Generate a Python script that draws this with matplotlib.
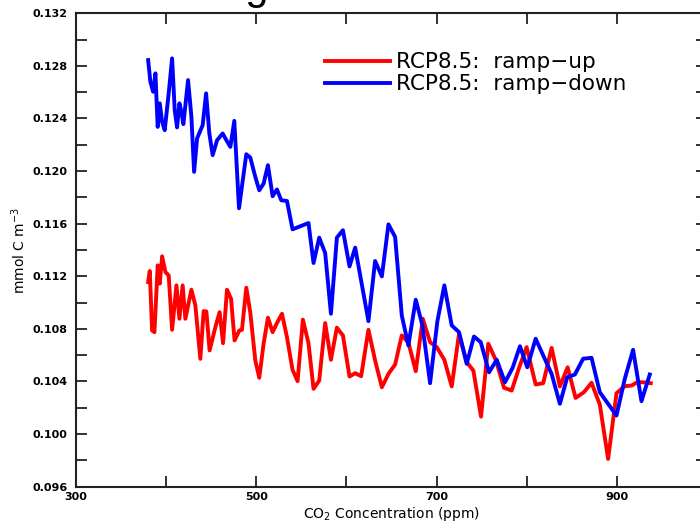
import numpy as np
import matplotlib
matplotlib.use("Agg")
import matplotlib.pyplot as plt
from matplotlib.ticker import FixedLocator, FixedFormatter

# CO2 concentration (ppm) and carbon concentration (mmol C m-3)
up_co2 = [380.0, 381.8, 384.4, 387.0, 390.6, 392.9, 395.5, 399.2, 402.8, 406.6,
          411.4, 414.7, 418.3, 421.3, 428.0, 432.4, 437.9, 441.6, 444.6, 448.2,
          454.6, 459.3, 463.1, 467.5, 472.0, 475.9, 481.2, 484.1, 488.9, 493.3,
          498.9, 503.3, 508.1, 512.9, 518.1, 522.9, 528.5, 534.0, 540.2, 545.8,
          551.7, 557.9, 563.5, 569.8, 576.4, 582.8, 589.4, 596.1, 603.4, 609.7,
          616.3, 624.4, 631.8, 639.3, 646.6, 654.0, 661.4, 668.7, 676.9, 684.7,
          692.8, 700.2, 708.6, 716.8, 724.9, 733.4, 740.8, 749.3, 757.4, 765.9,
          774.8, 783.3, 791.7, 799.9, 809.9, 818.3, 827.6, 836.8, 845.4, 854.2,
          863.4, 871.9, 881.1, 890.3, 899.6, 908.8, 916.3, 922.5, 929.1, 937.6]
up_carbon = [0.11156, 0.11240, 0.10788, 0.10775, 0.11283, 0.11144, 0.11352, 0.11232, 0.11207, 0.10793,
             0.11131, 0.10877, 0.11131, 0.10877, 0.11098, 0.10978, 0.10572, 0.10935, 0.10933, 0.10636,
             0.10813, 0.10927, 0.10691, 0.11098, 0.11029, 0.10712, 0.10788, 0.10793, 0.11113, 0.10927,
             0.10560, 0.10428, 0.10687, 0.10885, 0.10775, 0.10844, 0.10915, 0.10737, 0.10489, 0.10402,
             0.10870, 0.10691, 0.10344, 0.10407, 0.10844, 0.10565, 0.10809, 0.10750, 0.10438, 0.10463,
             0.10440, 0.10793, 0.10560, 0.10356, 0.10458, 0.10529, 0.10750, 0.10697, 0.10478, 0.10877,
             0.10699, 0.10661, 0.10565, 0.10362, 0.10763, 0.10547, 0.10483, 0.10133, 0.10687, 0.10560,
             0.10352, 0.10331, 0.10508, 0.10661, 0.10377, 0.10387, 0.10656, 0.10362, 0.10508, 0.10275,
             0.10318, 0.10390, 0.10224, 0.09811, 0.10311, 0.10364, 0.10369, 0.10394, 0.10394, 0.10387]

down_co2 = [380.0, 382.5, 385.5, 388.1, 390.6, 392.9, 395.5, 398.4, 402.8, 406.6,
            409.5, 412.1, 414.7, 416.9, 419.1, 424.3, 428.0, 431.0, 434.3, 440.5,
            444.3, 447.9, 451.6, 456.5, 462.7, 466.8, 471.2, 475.6, 480.8, 488.9,
            493.3, 498.9, 503.3, 508.1, 512.9, 518.1, 522.9, 527.7, 534.0, 540.2,
            557.9, 563.5, 569.8, 576.4, 582.8, 589.4, 596.1, 603.4, 609.7, 624.4,
            631.8, 639.3, 646.6, 654.0, 661.4, 668.7, 676.9, 684.3, 692.8, 700.9,
            708.6, 716.8, 724.9, 733.4, 741.5, 749.0, 758.2, 766.7, 775.9, 784.4,
            792.5, 800.6, 809.9, 818.3, 827.6, 836.8, 844.9, 853.4, 862.6, 871.9,
            881.1, 890.3, 899.6, 908.8, 918.0, 927.3, 936.5]
down_carbon = [0.12844, 0.12679, 0.12603, 0.12743, 0.12336, 0.12515, 0.12374, 0.12311, 0.12591, 0.12857,
               0.12464, 0.12332, 0.12515, 0.12451, 0.12357, 0.12692, 0.12413, 0.11994, 0.12248, 0.12349,
               0.12591, 0.12286, 0.12121, 0.12235, 0.12286, 0.12235, 0.12184, 0.12382, 0.11717, 0.12128,
               0.12103, 0.11956, 0.11854, 0.11905, 0.12045, 0.11809, 0.11860, 0.11778, 0.11773, 0.11557,
               0.11605, 0.11301, 0.11494, 0.11377, 0.10915, 0.11494, 0.11550, 0.11275, 0.11418, 0.10859,
               0.11316, 0.11199, 0.11595, 0.11499, 0.10902, 0.10674, 0.11022, 0.10826, 0.10387, 0.10859,
               0.11131, 0.10826, 0.10775, 0.10534, 0.10742, 0.10699, 0.10470, 0.10565, 0.10394, 0.10504,
               0.10668, 0.10508, 0.10725, 0.10598, 0.10458, 0.10230, 0.10432, 0.10453, 0.10573, 0.10580,
               0.10318, 0.10230, 0.10141, 0.10420, 0.10641, 0.10250, 0.10453]

x_ticks = [300, 400, 500, 600, 700, 800, 900, 1000]
x_labels = ["300", "", "500", "", "700", "", "900", ""]
y_ticks = [0.096, 0.098, 0.100, 0.102, 0.104, 0.106, 0.108, 0.110, 0.112, 0.114,
           0.116, 0.118, 0.120, 0.122, 0.124, 0.126, 0.128, 0.130, 0.132]
y_labels = ["0.096", "", "0.100", "", "0.104", "", "0.108", "", "0.112", "",
            "0.116", "", "0.120", "", "0.124", "", "0.128", "", "0.132"]

fig = plt.figure(figsize=(7, 5.25), dpi=100)
# plot frame runs slightly past the right edge of the canvas
ax = fig.add_axes([0.1086, 0.073, 0.9014, 0.9017])

ax.plot(up_co2, up_carbon, color="#ff0000", lw=2.8, label="RCP8.5:  ramp\u2212up")
ax.plot(down_co2, down_carbon, color="#0000ff", lw=2.8, label="RCP8.5:  ramp\u2212down")

ax.set_xlim(300, 1000)
ax.set_ylim(0.096, 0.132)

ax.xaxis.set_major_locator(FixedLocator(x_ticks))
ax.xaxis.set_major_formatter(FixedFormatter(x_labels))
ax.yaxis.set_major_locator(FixedLocator(y_ticks))
ax.yaxis.set_major_formatter(FixedFormatter(y_labels))

ax.tick_params(direction="in", length=8, width=1.3, top=True, right=True,
               color="#222222")
ax.tick_params(axis="y", labelsize=8, pad=6)
ax.tick_params(axis="x", labelsize=8, pad=4)
for lab in ax.get_xticklabels() + ax.get_yticklabels():
    lab.set_fontweight("bold")
for sp in ax.spines.values():
    sp.set_linewidth(1.5)
    sp.set_color("#222222")

ax.set_xlabel("CO$_2$ Concentration (ppm)", fontsize=10, labelpad=2)
ax.set_ylabel("mmol C m$^{-3}$", fontsize=10, labelpad=3)

leg = ax.legend(loc="upper left", bbox_to_anchor=(0.395, 0.918), frameon=False,
                prop={"family": "DejaVu Sans", "size": 15.5},
                handlelength=3.0, handletextpad=0.3, labelspacing=0.1,
                borderpad=0, borderaxespad=0)
for ln in leg.get_lines():
    ln.set_linewidth(2.8)

# large title sits above the canvas, only its descenders show
fig.text(0.5486, 1.0 + 1.0 / 525, "Large Diatom Carbon", fontsize=30,
         ha="center", va="baseline", family="Liberation Sans")

fig.savefig("out.png", dpi=100)
